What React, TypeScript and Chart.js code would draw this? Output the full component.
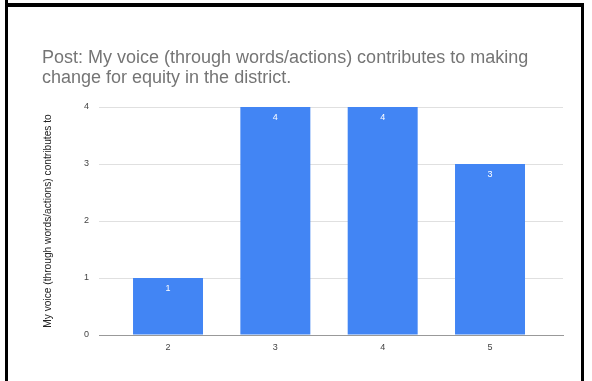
import React, { useEffect, useRef } from "react";
import { Chart, registerables } from "chart.js";

Chart.register(...registerables);

const categories = [2, 3, 4, 5];
const counts = [1, 4, 4, 3];
const yTicks = [0, 1, 2, 3, 4];
const titleLines = [
  "Post: My voice (through words/actions) contributes to making",
  "change for equity in the district.",
];
const yAxisTitle = "My voice (through words/actions) contributes to";

const FONT = "'Liberation Sans', Arial, sans-serif";

const barLabels = {
  id: "barLabels",
  afterDatasetsDraw(chart: any) {
    const ctx = chart.ctx;
    const meta = chart.getDatasetMeta(0);
    ctx.save();
    ctx.fillStyle = "#ffffff";
    ctx.font = `9px ${FONT}`;
    ctx.textAlign = "center";
    ctx.textBaseline = "middle";
    meta.data.forEach((bar: any, i: number) => {
      ctx.fillText(String(counts[i]), bar.x, bar.y + 11);
    });
    ctx.restore();
  },
};

export default function App() {
  const ref = useRef<HTMLCanvasElement>(null);

  useEffect(() => {
    if (!ref.current) return;
    const chart = new Chart(ref.current, {
      type: "bar",
      data: {
        datasets: [
          {
            data: categories.map((c, i) => ({ x: c, y: counts[i] })),
            backgroundColor: "#4285f4",
            borderWidth: 0,
            barPercentage: 0.652,
            categoryPercentage: 1,
          },
        ],
      },
      plugins: [barLabels],
      options: {
        responsive: false,
        animation: false,
        devicePixelRatio: 1,
        layout: { padding: { left: 42, right: 29, top: 0, bottom: 26 } },
        plugins: {
          legend: { display: false },
          tooltip: { enabled: false },
          title: {
            display: true,
            text: titleLines,
            align: "start",
            color: "#757575",
            font: { family: FONT, size: 18, weight: "normal", lineHeight: 20 / 18 },
            padding: { top: 48, bottom: 19 },
          },
        },
        scales: {
          x: {
            type: "linear",
            offset: false,
            min: 1.357,
            max: 5.68,
            afterBuildTicks: (axis: any) => {
              axis.ticks = categories.map((v) => ({ value: v }));
            },
            afterFit: (axis: any) => {
              axis.height = 20;
            },
            grid: { display: false, drawTicks: false },
            border: { display: true, color: "#999999", width: 1 },
            ticks: {
              color: "#444444",
              font: { family: FONT, size: 9 },
              padding: 7,
              autoSkip: false,
              maxRotation: 0,
              callback: (v: any) => String(v),
            },
          },
          y: {
            min: 0,
            max: 4,
            afterBuildTicks: (axis: any) => {
              axis.ticks = yTicks.map((v) => ({ value: v }));
            },
            afterFit: (axis: any) => {
              axis.width = 57;
            },
            grid: { color: "#e0e0e0", drawTicks: false },
            border: { display: false },
            ticks: {
              color: "#444444",
              font: { family: FONT, size: 9 },
              padding: 10,
            },
            title: {
              display: true,
              text: yAxisTitle,
              color: "#222222",
              font: { family: FONT, size: 10.2 },
              padding: { top: 0, bottom: 0 },
            },
          },
        },
      },
    } as any);
    return () => chart.destroy();
  }, []);

  return (
    <div
      style={{
        position: "fixed",
        left: 0,
        top: 0,
        width: 592,
        height: 381,
        background: "#ffffff",
        overflow: "hidden",
      }}
    >
      <canvas
        ref={ref}
        width={592}
        height={381}
        style={{ position: "absolute", left: 0, top: 0, width: 592, height: 381 }}
      />
      <div style={{ position: "absolute", left: 5, top: 0, width: 3, height: 381, background: "#000" }} />
      <div style={{ position: "absolute", left: 5, top: 3, width: 579, height: 4, background: "#000" }} />
      <div style={{ position: "absolute", left: 581, top: 3, width: 3, height: 378, background: "#000" }} />
    </div>
  );
}
